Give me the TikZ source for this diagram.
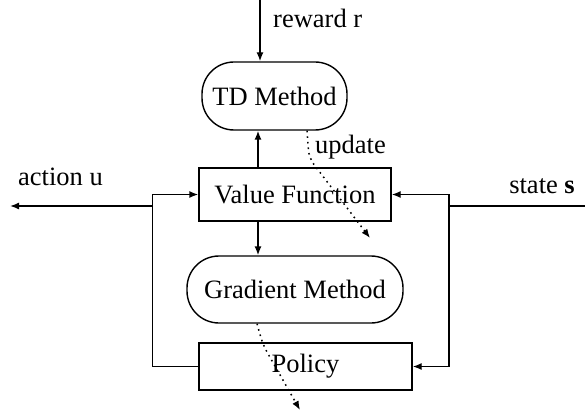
\documentclass[tikz,border=0pt]{standalone}
\usepackage{fontspec}
\setmainfont{Liberation Serif}
\usetikzlibrary{arrows.meta}
\begin{document}
\begin{tikzpicture}[x=1pt,y=-1pt,
  every node/.style={font=\fontsize{26.5}{31}\selectfont, inner sep=0pt},
  box/.style={draw, line width=1.4pt, rectangle},
  pill/.style={draw, line width=1.4pt, rounded corners=32pt},
  wire/.style={line width=1.4pt},
  arr/.style={wire, -{Latex[length=9pt,width=7pt]}},
  upd/.style={line width=1.5pt, dash pattern=on 1.6pt off 4pt, -{Latex[length=9pt,width=7pt]}}]
\useasboundingbox (0,0) rectangle (585,414);

% blocks
\node[pill, minimum width=145pt, minimum height=68pt] (td) at (274.5,96) {TD Method};
\node[box, minimum width=192pt, minimum height=53pt] (vf) at (295,194.5) {Value Function};
\node[pill, minimum width=216pt, minimum height=67pt] (gm) at (295,289.5) {Gradient Method};
\node[box, minimum width=213pt, minimum height=47pt] (po) at (305.5,366.5) {Policy};

% labels
\node[anchor=west] (rewardlbl) at (273,18) {reward r};
\node[anchor=west] (actionlbl) at (18,177) {action u};
\node[anchor=east] (statelbl) at (575,186) {state \textbf{s}};
\node[anchor=west] (updlbl) at (315,147) {update};

% free ends and junctions
\coordinate (rtop) at (260,0);
\coordinate (midx) at (258,0);
\coordinate (lj) at (153,206);
\coordinate (actend) at (10,206);
\coordinate (sin) at (585,206);
\coordinate (rj) at (449,206);
\coordinate (updx) at (307,0);
\coordinate (updbend) at (309,158);
\coordinate (updend) at (370,238);
\coordinate (polx) at (257,0);
\coordinate (polbend) at (263,345);
\coordinate (polend) at (300,410);

% reward input
\draw[arr] (rtop) -- (td.north -| rtop);

% value function to the two methods
\draw[arr] (vf.north -| midx) -- (td.south -| midx);
\draw[arr] (vf.south -| midx) -- (gm.north -| midx);

% action feedback on the left
\draw[arr] (po.west) -| ([xshift=-46pt]vf.west) -- (vf.west);
\draw[arr] (lj) -- (actend);

% state input on the right
\draw[wire] (sin) -- (rj);
\draw[arr] (rj) |- (vf.east);
\draw[arr] (rj) |- (po.east);

% update paths
\draw[upd, rounded corners=8pt] (td.south -| updx) -- (updbend) -- (updend);
\draw[upd, rounded corners=8pt] (gm.south -| polx) -- (polbend) -- (polend);
\end{tikzpicture}
\end{document}
